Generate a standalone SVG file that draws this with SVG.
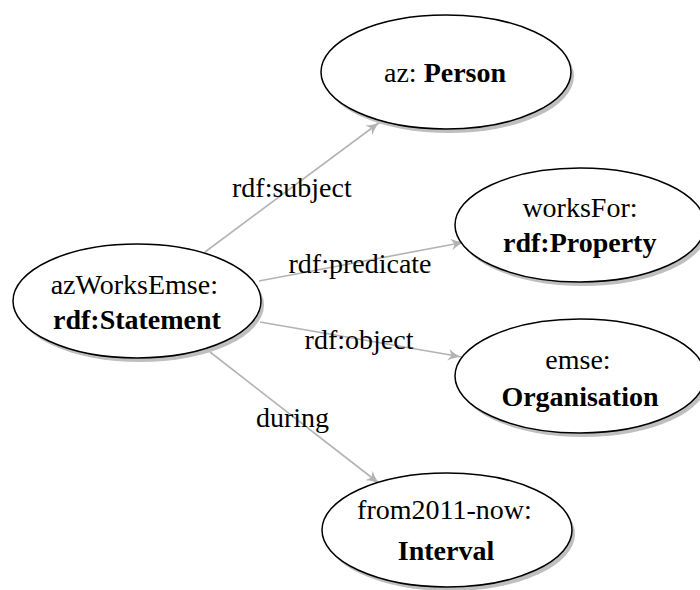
<svg xmlns="http://www.w3.org/2000/svg" width="700" height="590" viewBox="0 0 700 590">
<style>
.shadow{fill:#bfbfbf;stroke:none}
.node{fill:#ffffff;stroke:#000000;stroke-width:1.5}
.edge{stroke:#b3b3b3;stroke-width:1.6;fill:none;marker-end:url(#arr)}
</style>
<defs>
<marker id="arr" markerUnits="userSpaceOnUse" markerWidth="16" markerHeight="14" viewBox="0 0 16 14" refX="15" refY="7" orient="auto">
<path d="M1,1 Q8,6 15,7 Q8,8 1,13 L4.5,7 Z" fill="#b3b3b3"/>
</marker>
</defs>
<g id="connectors">
<line class="edge" x1="205" y1="252" x2="380" y2="122"/>
<line class="edge" x1="259" y1="281" x2="465" y2="242"/>
<line class="edge" x1="260" y1="322" x2="462" y2="357"/>
<line class="edge" x1="210" y1="352" x2="380" y2="484"/>
<text x="232" y="197" font-family="Liberation Serif" font-size="28">rdf:subject</text>
<text x="288.5" y="273" font-family="Liberation Serif" font-size="28">rdf:predicate</text>
<text x="304.6" y="349" font-family="Liberation Serif" font-size="28">rdf:object</text>
<text x="256" y="427" font-family="Liberation Serif" font-size="28">during</text>
</g>
<g id="statement">
<ellipse class="shadow" cx="140" cy="305" rx="124" ry="57"/>
<ellipse class="node" cx="137" cy="301" rx="124" ry="57"/>
<text x="50.7" y="294" font-family="Liberation Serif" font-size="28">azWorksEmse:</text>
<text x="53" y="329" font-family="Liberation Serif" font-size="28" font-weight="bold">rdf:Statement</text>
</g>
<g id="person">
<ellipse class="shadow" cx="449" cy="76" rx="125" ry="57"/>
<ellipse class="node" cx="446" cy="72" rx="125" ry="57"/>
<text x="384" y="82" font-family="Liberation Serif" font-size="28">az: <tspan font-weight="bold">Person</tspan></text>
</g>
<g id="worksFor">
<ellipse class="shadow" cx="583" cy="229" rx="125" ry="57"/>
<ellipse class="node" cx="580" cy="225" rx="125" ry="57"/>
<text x="522.4" y="217" font-family="Liberation Serif" font-size="28">worksFor:</text>
<text x="503" y="252" font-family="Liberation Serif" font-size="28" font-weight="bold">rdf:Property</text>
</g>
<g id="emse">
<ellipse class="shadow" cx="583" cy="380" rx="125" ry="57"/>
<ellipse class="node" cx="580" cy="376" rx="125" ry="57"/>
<text x="545.3" y="369" font-family="Liberation Serif" font-size="28">emse:</text>
<text x="501.4" y="406" font-family="Liberation Serif" font-size="28" font-weight="bold">Organisation</text>
</g>
<g id="interval">
<ellipse class="shadow" cx="450" cy="534" rx="125" ry="57"/>
<ellipse class="node" cx="447" cy="530" rx="125" ry="57"/>
<text x="357.1" y="519" font-family="Liberation Serif" font-size="28">from2011-now:</text>
<text x="397.8" y="560" font-family="Liberation Serif" font-size="28" font-weight="bold">Interval</text>
</g>
</svg>
